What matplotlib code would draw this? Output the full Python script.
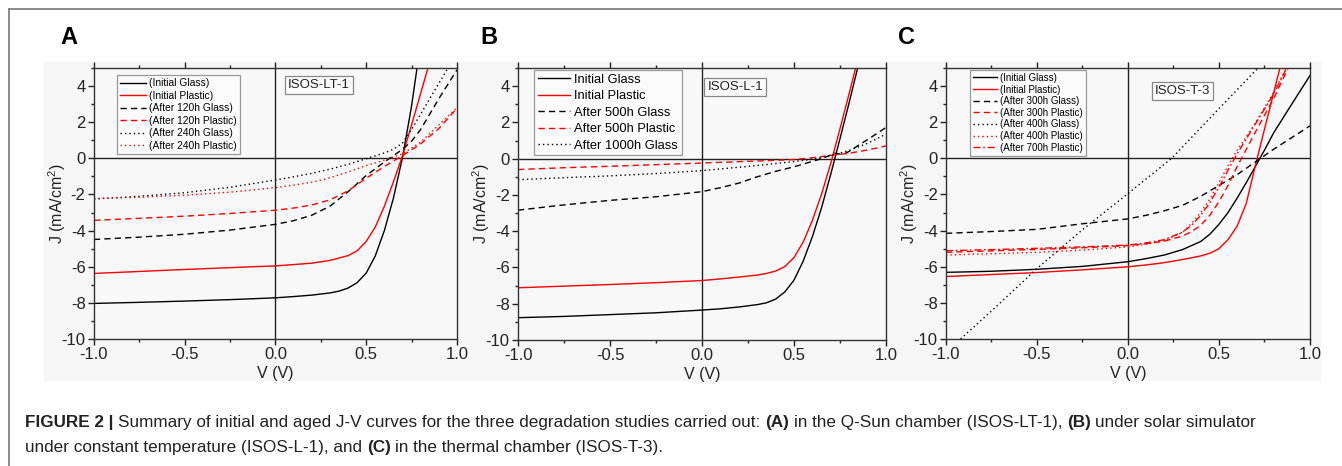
import matplotlib
matplotlib.use("Agg")
import matplotlib.pyplot as plt
from matplotlib.lines import Line2D
from matplotlib.patches import Rectangle
from matplotlib.ticker import MultipleLocator, FormatStrFormatter

plt.rcParams['font.family'] = ['Liberation Sans', 'DejaVu Sans']
plt.rcParams['mathtext.fontset'] = 'custom'
plt.rcParams['mathtext.rm'] = 'Liberation Sans'
plt.rcParams['axes.unicode_minus'] = False

# ---------------- panel A (ISOS-LT-1) ----------------
a_ig_v = [-1.0, -0.75, -0.5, -0.25, 0.0, 0.1, 0.2, 0.3, 0.35, 0.4, 0.45, 0.5, 0.55, 0.6, 0.65, 0.7, 0.75, 0.78]
a_ig_j = [-8.03, -7.97, -7.9, -7.82, -7.72, -7.65, -7.57, -7.45, -7.35, -7.18, -6.88, -6.35, -5.4, -4.0, -2.2, 0.05, 2.9, 5.0]
a_ip_v = [-1.0, -0.75, -0.5, -0.25, 0.0, 0.1, 0.2, 0.3, 0.4, 0.45, 0.5, 0.55, 0.6, 0.65, 0.7, 0.75, 0.8, 0.84]
a_ip_j = [-6.37, -6.26, -6.15, -6.05, -5.95, -5.88, -5.8, -5.65, -5.38, -5.12, -4.6, -3.8, -2.65, -1.3, 0.15, 1.85, 3.6, 5.0]
a_g120_v = [-1.0, -0.75, -0.5, -0.25, 0.0, 0.1, 0.2, 0.3, 0.4, 0.5, 0.6, 0.7, 0.75, 0.8, 0.9, 1.0]
a_g120_j = [-4.49, -4.36, -4.2, -3.97, -3.65, -3.45, -3.15, -2.65, -1.85, -0.95, -0.2, 0.5, 0.95, 1.6, 3.3, 4.9]
a_p120_v = [-1.0, -0.75, -0.5, -0.25, 0.0, 0.1, 0.2, 0.3, 0.4, 0.5, 0.6, 0.7, 0.8, 0.9, 1.0]
a_p120_j = [-3.43, -3.32, -3.2, -3.05, -2.87, -2.75, -2.58, -2.3, -1.8, -1.1, -0.45, 0.15, 0.8, 1.65, 2.77]
a_g240_v = [-1.0, -0.75, -0.5, -0.25, 0.0, 0.1, 0.2, 0.3, 0.4, 0.5, 0.6, 0.65, 0.7, 0.75, 0.8, 0.85, 0.9, 0.95]
a_g240_j = [-2.25, -2.1, -1.9, -1.6, -1.2, -1.02, -0.83, -0.6, -0.33, -0.02, 0.3, 0.5, 0.85, 1.6, 2.45, 3.3, 4.15, 5.0]
a_p240_v = [-1.0, -0.75, -0.5, -0.25, 0.0, 0.1, 0.2, 0.3, 0.4, 0.5, 0.6, 0.7, 0.8, 0.9, 1.0]
a_p240_j = [-2.22, -2.15, -2.04, -1.87, -1.62, -1.48, -1.32, -1.08, -0.75, -0.4, -0.1, 0.25, 0.9, 1.85, 2.8]

# ---------------- panel B (ISOS-L-1) ----------------
b_ig_v = [-1.0, -0.75, -0.5, -0.25, 0.0, 0.1, 0.2, 0.3, 0.35, 0.4, 0.45, 0.5, 0.55, 0.6, 0.65, 0.7, 0.75, 0.8, 0.846]
b_ig_j = [-8.77, -8.7, -8.6, -8.5, -8.35, -8.28, -8.18, -8.05, -7.95, -7.75, -7.35, -6.7, -5.65, -4.3, -2.7, -0.85, 1.1, 3.1, 5.0]
b_ip_v = [-1.0, -0.75, -0.5, -0.25, 0.0, 0.1, 0.2, 0.3, 0.35, 0.4, 0.45, 0.5, 0.55, 0.6, 0.65, 0.7, 0.75, 0.8, 0.835]
b_ip_j = [-7.12, -7.03, -6.94, -6.84, -6.72, -6.63, -6.53, -6.42, -6.33, -6.2, -5.95, -5.45, -4.6, -3.4, -1.95, -0.25, 1.65, 3.6, 5.0]
b_g500_v = [-1.0, -0.75, -0.5, -0.25, 0.0, 0.1, 0.2, 0.3, 0.4, 0.5, 0.6, 0.65, 0.7, 0.72, 0.75, 0.78, 0.8, 0.86, 0.9, 1.0]
b_g500_j = [-2.84, -2.55, -2.3, -2.1, -1.82, -1.6, -1.35, -1.0, -0.7, -0.45, -0.15, 0.0, 0.2, 0.3, 0.25, 0.3, 0.4, 0.8, 1.05, 1.72]
b_p500_v = [-1.0, -0.75, -0.5, -0.25, 0.0, 0.3, 0.5, 0.6, 0.7, 0.8, 0.9, 1.0]
b_p500_j = [-0.6, -0.5, -0.42, -0.33, -0.24, -0.13, -0.05, 0.05, 0.18, 0.3, 0.48, 0.7]
b_g1000_v = [-1.0, -0.75, -0.5, -0.25, 0.0, 0.3, 0.5, 0.6, 0.7, 0.8, 0.9, 1.0]
b_g1000_j = [-1.16, -1.05, -0.95, -0.82, -0.66, -0.38, -0.16, -0.03, 0.17, 0.45, 0.85, 1.35]

# ---------------- panel C (ISOS-T-3) ----------------
c_ig_v = [-1.0, -0.75, -0.5, -0.25, 0.0, 0.1, 0.2, 0.3, 0.4, 0.45, 0.5, 0.55, 0.6, 0.65, 0.7, 0.75, 0.8, 0.9, 1.0]
c_ig_j = [-6.31, -6.25, -6.14, -5.98, -5.72, -5.55, -5.35, -5.05, -4.6, -4.2, -3.65, -3.0, -2.2, -1.35, -0.45, 0.45, 1.4, 3.0, 4.58]
c_ip_v = [-1.0, -0.75, -0.5, -0.25, 0.0, 0.1, 0.2, 0.3, 0.4, 0.45, 0.5, 0.55, 0.6, 0.65, 0.7, 0.75, 0.8, 0.835]
c_ip_j = [-6.54, -6.43, -6.32, -6.17, -6.0, -5.9, -5.77, -5.6, -5.4, -5.25, -5.0, -4.5, -3.75, -2.5, -0.4, 1.6, 3.6, 5.0]
c_g300_v = [-1.0, -0.75, -0.5, -0.25, 0.0, 0.1, 0.2, 0.3, 0.4, 0.5, 0.6, 0.7, 0.8, 0.9, 1.0]
c_g300_j = [-4.15, -4.05, -3.93, -3.62, -3.35, -3.15, -2.9, -2.6, -2.1, -1.5, -0.9, -0.2, 0.5, 1.15, 1.8]
c_p300_v = [-1.0, -0.75, -0.5, -0.25, 0.0, 0.1, 0.2, 0.3, 0.35, 0.4, 0.45, 0.5, 0.55, 0.6, 0.65, 0.7, 0.8, 0.88]
c_p300_j = [-5.2, -5.12, -5.04, -4.95, -4.83, -4.72, -4.58, -4.3, -4.05, -3.7, -3.15, -2.4, -1.5, -0.45, 0.5, 1.45, 3.3, 5.0]
c_g400_v = [-0.92, -0.75, -0.5, -0.25, 0.0, 0.24, 0.5, 0.71]
c_g400_j = [-10.0, -8.45, -6.1, -3.95, -1.95, 0.0, 2.75, 4.95]
c_p400_v = [-1.0, -0.75, -0.5, -0.25, 0.0, 0.1, 0.2, 0.3, 0.35, 0.4, 0.45, 0.5, 0.55, 0.6, 0.7, 0.8, 0.87]
c_p400_j = [-5.35, -5.28, -5.2, -5.08, -4.9, -4.75, -4.55, -4.1, -3.6, -3.0, -2.25, -1.35, -0.4, 0.45, 1.95, 3.65, 5.0]
c_p700_v = [-1.0, -0.75, -0.5, -0.25, 0.0, 0.1, 0.2, 0.3, 0.35, 0.4, 0.45, 0.5, 0.55, 0.6, 0.7, 0.8, 0.87]
c_p700_j = [-5.11, -5.05, -4.98, -4.9, -4.8, -4.68, -4.5, -4.08, -3.7, -3.15, -2.45, -1.6, -0.65, 0.25, 1.9, 3.55, 4.95]

DOT = (0, (1, 2.2))
DASH = (0, (4.5, 3))
DASHDOT = (0, (5, 2, 1.2, 2))

panels = [
    dict(rect=[0.0700, 0.2725, 0.2705, 0.5815], letter='A', lx=60, box='ISOS-LT-1', bxy=(0.62, 0.937),
         leg_anchor=(0.063, 0.974), leg_fs=7.4, leg_sp=0.25,
         curves=[(a_ig_v, a_ig_j, 'black', '-', '(Initial Glass)'),
                 (a_ip_v, a_ip_j, 'red', '-', '(Initial Plastic)'),
                 (a_g120_v, a_g120_j, 'black', DASH, '(After 120h Glass)'),
                 (a_p120_v, a_p120_j, 'red', DASH, '(After 120h Plastic)'),
                 (a_g240_v, a_g240_j, 'black', DOT, '(After 240h Glass)'),
                 (a_p240_v, a_p240_j, 'red', DOT, '(After 240h Plastic)')]),
    dict(rect=[0.3860, 0.2704, 0.2742, 0.5837], letter='B', lx=480, box='ISOS-L-1', bxy=(0.59, 0.93),
         leg_anchor=(0.0435, 0.993), leg_fs=9.3, leg_sp=0.34,
         curves=[(b_ig_v, b_ig_j, 'black', '-', 'Initial Glass'),
                 (b_ip_v, b_ip_j, 'red', '-', 'Initial Plastic'),
                 (b_g500_v, b_g500_j, 'black', DASH, 'After 500h Glass'),
                 (b_p500_v, b_p500_j, 'red', DASH, 'After 500h Plastic'),
                 (b_g1000_v, b_g1000_j, 'black', DOT, 'After 1000h Glass')]),
    dict(rect=[0.7049, 0.2725, 0.2712, 0.5815], letter='C', lx=898, box='ISOS-T-3', bxy=(0.651, 0.915),
         leg_anchor=(0.066, 0.993), leg_fs=7.0, leg_sp=0.17,
         curves=[(c_ig_v, c_ig_j, 'black', '-', '(Initial Glass)'),
                 (c_ip_v, c_ip_j, 'red', '-', '(Initial Plastic)'),
                 (c_g300_v, c_g300_j, 'black', DASH, '(After 300h Glass)'),
                 (c_p300_v, c_p300_j, 'red', DASH, '(After 300h Plastic)'),
                 (c_g400_v, c_g400_j, 'black', DOT, '(After 400h Glass)'),
                 (c_p400_v, c_p400_j, 'red', DOT, '(After 400h Plastic)'),
                 (c_p700_v, c_p700_j, 'red', DASHDOT, '(After 700h Plastic)')]),
]

W, H = 1342, 466
fig = plt.figure(figsize=(W / 100, H / 100), dpi=100)
fig.patch.set_facecolor('white')

# light grey panel backgrounds, behind the axes
for x0, x1 in [(44, 470), (466, 900), (898, 1320)]:
    fig.patches.append(Rectangle((x0 / W, 1 - 380 / H), (x1 - x0) / W, 318 / H,
                                 transform=fig.transFigure, color='#f6f6f6', zorder=-5))

# frame lines
fig.add_artist(Line2D([9 / W, 1], [1 - 9 / H, 1 - 9 / H], color='#777777', lw=1.2))
fig.add_artist(Line2D([9 / W, 9 / W], [0, 1 - 9 / H], color='#777777', lw=1.2))

for p in panels:
    ax = fig.add_axes(p['rect'])
    ax.set_facecolor('#f8f8f8')
    for v, j, c, ls, lab in p['curves']:
        ax.plot(v, j, color=c, ls=ls, lw=1.0, label=lab)
    ax.axhline(0, color='#222222', lw=1.0, zorder=1)
    ax.axvline(0, color='#222222', lw=1.0, zorder=1)
    ax.set_xlim(-1, 1)
    ax.set_ylim(-10, 5)
    ax.xaxis.set_major_locator(MultipleLocator(0.5))
    ax.xaxis.set_minor_locator(MultipleLocator(0.25))
    ax.yaxis.set_minor_locator(MultipleLocator(1))
    ax.set_yticks([-10, -8, -6, -4, -2, 0, 2, 4])
    ax.xaxis.set_major_formatter(FormatStrFormatter('%.1f'))
    ax.tick_params(which='both', direction='out', top=True, right=False, labelsize=12,
                   colors='#222222', width=1.0, pad=2)
    ax.tick_params(which='major', length=4)
    ax.tick_params(which='minor', length=2.3)
    for s in ax.spines.values():
        s.set_color('#333333')
        s.set_linewidth(1.0)
    ax.set_xlabel('V (V)', fontsize=11.5, labelpad=2.5, color='#222222')
    ax.set_ylabel(r'J (mA/cm$^\mathregular{2}$)', fontsize=11.5, labelpad=-4.5, color='#222222')
    leg = ax.legend(loc='upper left', bbox_to_anchor=p['leg_anchor'], borderaxespad=0,
                    fontsize=p['leg_fs'], labelspacing=p['leg_sp'], fancybox=False,
                    edgecolor='#999999', framealpha=1, facecolor='#fbfbfb',
                    handlelength=2.5, handletextpad=0.3, borderpad=0.3)
    leg.get_frame().set_linewidth(0.9)
    ax.text(p['bxy'][0], p['bxy'][1], p['box'], transform=ax.transAxes, ha='center', va='center',
            fontsize=9.5, color='#222222',
            bbox=dict(boxstyle='square,pad=0.22', fc='#fbfbfb', ec='#888888', lw=0.9))
    fig.text(p['lx'] / W, 1 - 37 / H, p['letter'], fontsize=17, fontweight='bold', va='center', ha='left')

# caption with bold fragments
cap = fig.add_axes([0, 0, 1, 1], zorder=5)
cap.axis('off')
lines = [
    [('FIGURE 2 |', 'bold'),
     ('Summary of initial and aged J-V curves for the three degradation studies carried out:', 'normal'),
     ('(A)', 'bold'), ('in the Q-Sun chamber (ISOS-LT-1),', 'normal'),
     ('(B)', 'bold'), ('under solar simulator', 'normal')],
    [('under constant temperature (ISOS-L-1), and', 'normal'), ('(C)', 'bold'),
     ('in the thermal chamber (ISOS-T-3).', 'normal')],
]
cap_fs = 12.3
for row, ypix in zip(lines, [430, 455]):
    prev = None
    for s, wgt in row:
        if prev is None:
            prev = cap.text(25 / W, 1 - ypix / H, s, transform=fig.transFigure, fontsize=cap_fs,
                            fontweight=wgt, ha='left', va='bottom', color='#222222')
        else:
            prev = cap.annotate(s, xy=(1, 0), xycoords=prev, xytext=(3.4, 0),
                                textcoords='offset points', fontsize=cap_fs, fontweight=wgt,
                                ha='left', va='bottom', color='#222222')

fig.savefig('out.png', dpi=100, facecolor='white')
